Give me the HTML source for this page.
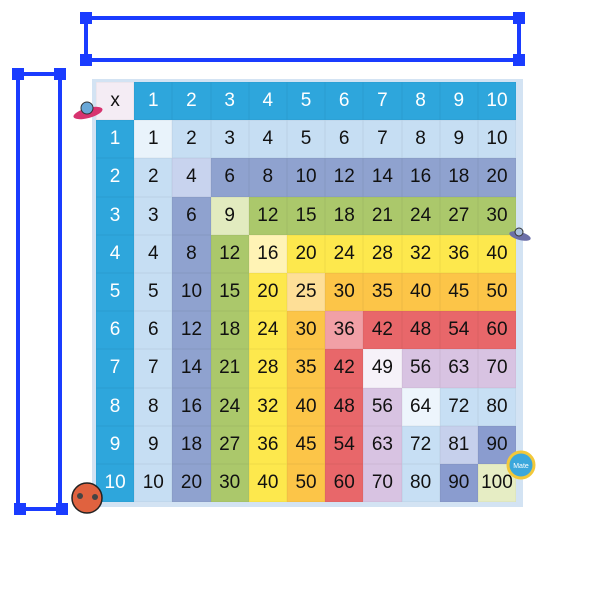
<!DOCTYPE html>
<html><head><style>
body{margin:0;width:600px;height:600px;background:#fff;position:relative;overflow:hidden;font-family:"Liberation Sans",sans-serif}
.frame{position:absolute;left:92px;top:79px;width:431px;height:428px;background:#d3e3f3}
.g{position:absolute;left:96px;top:82px;display:grid;grid-template-columns:repeat(11,38.2px);grid-template-rows:repeat(11,38.2px)}
.g div{display:flex;align-items:center;justify-content:center;font-size:19px;color:#111;box-shadow:inset 0 0 0 0.5px rgba(0,0,0,0.06)}
.h{background:#2ea6dc;color:#fff!important}
.x{background:#f4ecf4}
.c1{background:#c6def3}.d1{background:#e9f3fb}
.c2{background:#8fa2cf}.d2{background:#c8d3ee}
.c3{background:#abc86b}.d3{background:#e2ebbf}
.c4{background:#fde84d}.d4{background:#fff3b5}
.c5{background:#fcc548}.d5{background:#fedf97}
.c6{background:#e8676a}.d6{background:#f1a0a6}
.c7{background:#d8c3e2}.d7{background:#f6f2f9}
.c8{background:#c7dff4}.d8{background:#edf5fc}
.c9{background:#8a9ccf}.d9{background:#c6d0ec}
.d10{background:#e6edc4}
.b{position:absolute;background:#1a3cff}
.k{position:absolute;width:12px;height:12px;background:#1a3cff}
</style></head><body>
<div class="b" style="left:84px;top:16px;width:437px;height:4px"></div>
<div class="b" style="left:84px;top:58px;width:437px;height:4px"></div>
<div class="b" style="left:84px;top:16px;width:4px;height:46px"></div>
<div class="b" style="left:517px;top:16px;width:4px;height:46px"></div>
<div class="k" style="left:80px;top:12px"></div><div class="k" style="left:513px;top:12px"></div>
<div class="k" style="left:80px;top:54px"></div><div class="k" style="left:513px;top:54px"></div>
<div class="b" style="left:16px;top:72px;width:46px;height:4px"></div>
<div class="b" style="left:16px;top:507px;width:46px;height:4px"></div>
<div class="b" style="left:16px;top:72px;width:4px;height:439px"></div>
<div class="b" style="left:58px;top:72px;width:4px;height:439px"></div>
<div class="k" style="left:12px;top:68px"></div><div class="k" style="left:54px;top:68px"></div>
<div class="k" style="left:14px;top:503px"></div><div class="k" style="left:56px;top:503px"></div>
<div class="frame"></div>
<div class="g">
<div class="x">x</div><div class="h">1</div><div class="h">2</div><div class="h">3</div><div class="h">4</div><div class="h">5</div><div class="h">6</div><div class="h">7</div><div class="h">8</div><div class="h">9</div><div class="h">10</div>
<div class="h">1</div><div class="d1">1</div><div class="c1">2</div><div class="c1">3</div><div class="c1">4</div><div class="c1">5</div><div class="c1">6</div><div class="c1">7</div><div class="c1">8</div><div class="c1">9</div><div class="c1">10</div>
<div class="h">2</div><div class="c1">2</div><div class="d2">4</div><div class="c2">6</div><div class="c2">8</div><div class="c2">10</div><div class="c2">12</div><div class="c2">14</div><div class="c2">16</div><div class="c2">18</div><div class="c2">20</div>
<div class="h">3</div><div class="c1">3</div><div class="c2">6</div><div class="d3">9</div><div class="c3">12</div><div class="c3">15</div><div class="c3">18</div><div class="c3">21</div><div class="c3">24</div><div class="c3">27</div><div class="c3">30</div>
<div class="h">4</div><div class="c1">4</div><div class="c2">8</div><div class="c3">12</div><div class="d4">16</div><div class="c4">20</div><div class="c4">24</div><div class="c4">28</div><div class="c4">32</div><div class="c4">36</div><div class="c4">40</div>
<div class="h">5</div><div class="c1">5</div><div class="c2">10</div><div class="c3">15</div><div class="c4">20</div><div class="d5">25</div><div class="c5">30</div><div class="c5">35</div><div class="c5">40</div><div class="c5">45</div><div class="c5">50</div>
<div class="h">6</div><div class="c1">6</div><div class="c2">12</div><div class="c3">18</div><div class="c4">24</div><div class="c5">30</div><div class="d6">36</div><div class="c6">42</div><div class="c6">48</div><div class="c6">54</div><div class="c6">60</div>
<div class="h">7</div><div class="c1">7</div><div class="c2">14</div><div class="c3">21</div><div class="c4">28</div><div class="c5">35</div><div class="c6">42</div><div class="d7">49</div><div class="c7">56</div><div class="c7">63</div><div class="c7">70</div>
<div class="h">8</div><div class="c1">8</div><div class="c2">16</div><div class="c3">24</div><div class="c4">32</div><div class="c5">40</div><div class="c6">48</div><div class="c7">56</div><div class="d8">64</div><div class="c8">72</div><div class="c8">80</div>
<div class="h">9</div><div class="c1">9</div><div class="c2">18</div><div class="c3">27</div><div class="c4">36</div><div class="c5">45</div><div class="c6">54</div><div class="c7">63</div><div class="c8">72</div><div class="d9">81</div><div class="c9">90</div>
<div class="h">10</div><div class="c1">10</div><div class="c2">20</div><div class="c3">30</div><div class="c4">40</div><div class="c5">50</div><div class="c6">60</div><div class="c7">70</div><div class="c8">80</div><div class="c9">90</div><div class="d10">100</div>
</div>
<svg style="position:absolute;left:0;top:0" width="600" height="600">
<ellipse cx="88" cy="113" rx="15" ry="5" fill="#d7336f" transform="rotate(-15 88 113)"/>
<circle cx="87" cy="108" r="6" fill="#6aa8d8" stroke="#333" stroke-width="1"/>
<ellipse cx="520" cy="236" rx="11" ry="4" fill="#6b6fa8" transform="rotate(15 520 236)"/>
<circle cx="519" cy="232" r="4" fill="#a9c0e0" stroke="#333" stroke-width="1"/>
<circle cx="87" cy="498" r="15" fill="#e0623f" stroke="#222" stroke-width="1.5"/>
<circle cx="80" cy="496" r="3" fill="#444"/><circle cx="95" cy="497" r="3" fill="#444"/>
<circle cx="521" cy="465" r="13" fill="#3ba7dc" stroke="#f2c83a" stroke-width="3"/>
<text x="521" y="468" font-size="7" fill="#fff" text-anchor="middle" font-family="Liberation Sans">Mate</text>
</svg>
</body></html>
